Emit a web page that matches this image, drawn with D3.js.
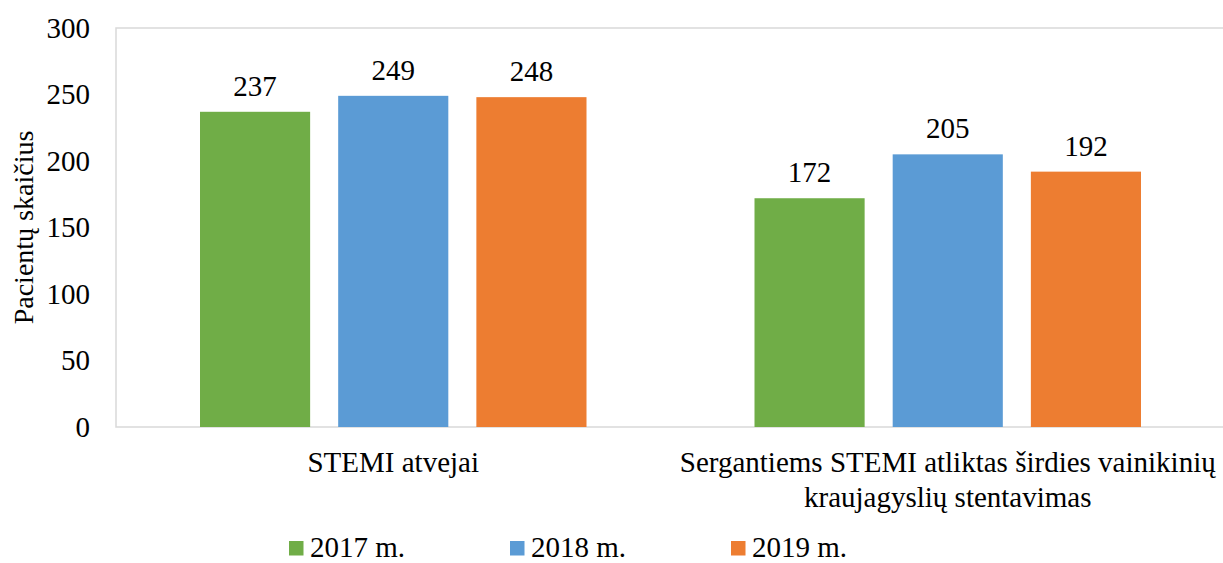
<!DOCTYPE html>
<html>
<head>
<meta charset="utf-8">
<script src="https://cdn.jsdelivr.net/npm/d3@7"></script>
<style>
  body { margin: 0; background: #fff; }
</style>
</head>
<body>
<div class="chart"></div>
<script>
var width = 1223
var height = 563
var serif = "'Times New Roman', 'Liberation Serif', 'DejaVu Serif', serif"

// data
const categories = ["STEMI atvejai", "Sergantiems STEMI atliktas širdies vainikinių kraujagyslių stentavimas"]
const categoryLines = [["STEMI atvejai"], ["Sergantiems STEMI atliktas širdies vainikinių", "kraujagyslių stentavimas"]]
const series = ["2017 m.", "2018 m.", "2019 m."]
const colors = ["#70AD47", "#5B9BD5", "#ED7D31"]
const values2017 = [237, 172]
const values2018 = [249, 205]
const values2019 = [248, 192]
const yTicks = [0, 50, 100, 150, 200, 250, 300]
const yTitle = "Pacientų skaičius"

const allValues = [values2017, values2018, values2019]

var svg = d3.select(".chart")
  .append("svg")
  .attr("width", width)
  .attr("height", height)
  .attr("font-family", serif)

const plotLeft = 116, plotRight = 1225, plotTop = 28, plotBottom = 427

const y = d3.scaleLinear().domain([0, 300]).range([plotBottom, plotTop])
const x0 = d3.scaleBand().domain(categories).range([plotLeft, plotRight])
const x1 = d3.scaleBand().domain(series)
  .range([84, x0.bandwidth() - 84])
  .paddingInner(0.203)

// plot area frame
svg.append("rect")
  .attr("x", plotLeft).attr("y", plotTop)
  .attr("width", plotRight - plotLeft).attr("height", plotBottom - plotTop)
  .attr("fill", "none")
  .attr("stroke", "#D9D9D9")
  .attr("stroke-width", 1.5)

// y axis labels
const yAxis = d3.axisLeft(y).tickValues(yTicks).tickSize(0).tickPadding(26)
const gy = svg.append("g").attr("transform", `translate(${plotLeft},0)`).call(yAxis)
gy.attr("font-family", serif).attr("font-size", 29)
gy.select(".domain").remove()
gy.selectAll("text").attr("fill", "#000")

svg.append("text")
  .attr("transform", `translate(33,${(plotTop + plotBottom) / 2}) rotate(-90)`)
  .attr("text-anchor", "middle")
  .attr("font-size", 28)
  .text(yTitle)

// bars
const rows = []
categories.forEach((c, i) => {
  series.forEach((s, j) => {
    rows.push({cat: c, ser: s, value: allValues[j][i], color: colors[j]})
  })
})

const bars = svg.append("g")
bars.selectAll("rect")
  .data(rows)
  .enter()
  .append("rect")
  .attr("x", d => x0(d.cat) + x1(d.ser))
  .attr("y", d => y(d.value))
  .attr("width", x1.bandwidth())
  .attr("height", d => y(0) - y(d.value))
  .attr("fill", d => d.color)

bars.selectAll("text")
  .data(rows)
  .enter()
  .append("text")
  .attr("x", d => x0(d.cat) + x1(d.ser) + x1.bandwidth() / 2)
  .attr("y", d => y(d.value) - 16)
  .attr("text-anchor", "middle")
  .attr("font-size", 29)
  .text(d => d.value)

// category labels
categories.forEach((c, i) => {
  const t = svg.append("text")
    .attr("x", x0(c) + x0.bandwidth() / 2)
    .attr("y", 472)
    .attr("text-anchor", "middle")
    .attr("font-size", 29)
  categoryLines[i].forEach((line, k) => {
    t.append("tspan")
      .attr("x", x0(c) + x0.bandwidth() / 2)
      .attr("dy", k === 0 ? 0 : 35)
      .text(line)
  })
})

// legend
const legend = svg.append("g")
  .selectAll("g")
  .data(series)
  .enter()
  .append("g")
  .attr("transform", (d, i) => `translate(${289 + i * 221},541)`)
legend.append("rect")
  .attr("width", 14.5).attr("height", 14.5)
  .attr("fill", (d, i) => colors[i])
legend.append("text")
  .attr("x", 21).attr("y", 15.5)
  .attr("font-size", 29)
  .text(d => d)
</script>
</body>
</html>
